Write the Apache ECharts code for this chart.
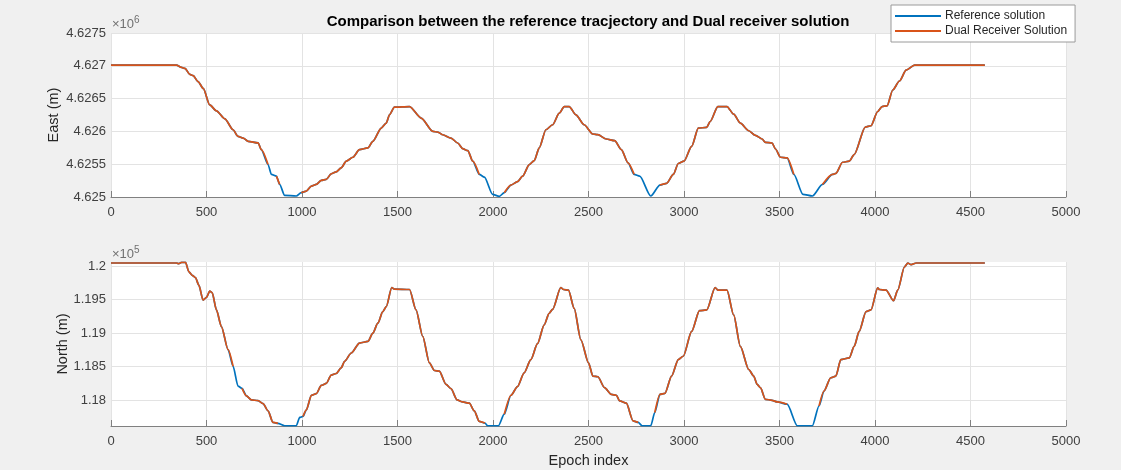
<!DOCTYPE html>
<html>
<head>
<meta charset="utf-8">
<script src="https://cdn.jsdelivr.net/npm/echarts@6/dist/echarts.min.js"></script>
<style>
html,body{margin:0;padding:0;background:#f0f0f0;}
#c{width:1121px;height:470px;}
</style>
</head>
<body>
<div id="c"></div>
<script>
// ---------- data ----------
const epochTicks = [0, 500, 1000, 1500, 2000, 2500, 3000, 3500, 4000, 4500, 5000];
const eastTicks = [4625000, 4625500, 4626000, 4626500, 4627000, 4627500];
const northTicks = [118000, 118500, 119000, 119500, 120000];

const eastEpoch = [0,343,369,387,413,430,456,483,517,552,596,639,665,692,718,770,787,822,840,866,883,909,970,996,1023,1049,1075,1101,1127,1153,1179,1205,1232,1266,1301,1345,1371,1415,1441,1458,1484,1563,1624,1685,1711,1737,1780,1815,1841,1868,1894,1928,1955,1998,2033,2059,2094,2128,2155,2190,2216,2242,2277,2312,2347,2373,2399,2434,2477,2523,2549,2593,2637,2672,2707,2739,2768,2826,2874,2909,2944,2970,3000,3040,3075,3119,3137,3177,3225,3260,3295,3339,3374,3409,3426,3461,3479,3505,3540,3575,3623,3672,3725,3777,3795,3830,3865,3891,3949,3979,4014,4037,4063,4093,4128,4163,4207,4575];

const eastRef = [4627010,4627010,4626975,4626960,4626870,4626850,4626760,4626655,4626404,4626313,
4626192,4626025,4625924,4625899,4625849,4625824,4625722,4625495,4625344,4625318,
4625192,4625025,4625015,4625066,4625091,4625167,4625192,4625253,4625268,4625354,
4625384,4625445,4625546,4625606,4625722,4625748,4625849,4626051,4626126,4626253,
4626369,4626379,4626202,4626000,4625990,4625949,4625899,4625823,4625737,4625707,
4625546,4625344,4625303,4625040,4625010,4625066,4625182,4625233,4625318,4625495,
4625556,4625748,4626025,4626101,4626278,4626379,4626379,4626253,4626101,4625960,
4625950,4625884,4625859,4625722,4625520,4625344,4625318,4625015,4625182,4625207,
4625344,4625511,4625546,4625773,4626050,4626061,4626151,4626379,4626379,4626262,
4626126,4626010,4625940,4625884,4625834,4625823,4625732,4625606,4625596,4625344,
4625040,4625015,4625192,4625344,4625359,4625530,4625546,4625647,4626066,4626086,
4626303,4626379,4626389,4626631,4626768,4626934,4627010,4627010];

const eastDual = [4627010,4627010,4626975,4626960,4626870,4626850,4626760,4626655,4626404,4626313,
4626192,4626025,4625924,4625899,4625849,4625824,4625722,4625495,null,4625318,
4625192,null,null,4625066,4625091,4625167,4625192,4625253,4625268,4625354,
4625384,4625445,4625546,4625606,4625722,4625748,4625849,4626051,4626126,4626253,
4626369,4626379,4626202,4626000,4625990,4625949,4625899,4625823,4625737,4625707,
4625546,4625344,null,null,null,4625066,4625182,4625233,4625318,4625495,
4625556,4625748,4626025,4626101,4626278,4626379,4626379,4626253,4626101,4625960,
4625950,4625884,4625859,4625722,4625520,4625344,null,null,4625182,4625207,
4625344,4625511,4625546,4625773,4626050,4626061,4626151,4626379,4626379,4626262,
4626126,4626010,4625940,4625884,4625834,4625823,4625732,4625606,4625596,4625344,
null,null,4625192,4625344,4625359,4625530,4625546,4625647,4626066,4626086,
4626303,4626379,4626389,4626631,4626768,4626934,4627010,4627010];

const northEpoch = [0,343,355,369,390,408,425,442,460,482,
500,517,530,552,578,613,639,665,686,709,
735,770,796,822,848,874,909,970,988,1005,
1023,1049,1075,1101,1127,1153,1179,1205,1223,1258,
1301,1345,1371,1397,1423,1441,1470,1484,1563,1597,
1632,1667,1693,1719,1754,1780,1812,1841,1876,1902,
1928,1958,1972,2028,2059,2094,2128,2163,2198,2233,
2268,2294,2312,2355,2369,2395,2425,2460,2500,2523,
2549,2584,2619,2646,2663,2698,2733,2760,2781,2826,
2847,2874,2900,2935,2970,2996,3040,3081,3119,3163,
3177,3225,3260,3295,3339,3365,3383,3400,3426,3461,
3488,3540,3593,3672,3707,3733,3768,3795,3821,3865,
3891,3917,3953,3979,4014,4023,4058,4097,4119,4154,
4172,4189,4216,4575];

const northRef = [120050,120050,120040,120060,120060,119916,119866,119832,119718,119495,
119535,119629,119604,119347,119099,118753,118505,118208,118173,118060,
118000,117990,117946,117837,117664,117649,117614,117614,117738,117753,
117852,118070,118094,118218,118248,118371,118396,118480,118579,118703,
118852,118876,119000,119149,119322,119396,119683,119658,119653,119347,
118951,118555,118441,118431,118233,118168,118000,117970,117951,117837,
117678,117654,117614,117614,117787,118070,118198,118406,118604,118842,
119124,119297,119357,119683,119653,119644,119371,118901,118555,118357,
118347,118183,118084,118070,117985,117951,117688,117664,117614,117614,
117812,118084,118099,118357,118604,118654,119025,119337,119347,119683,
119644,119644,119272,118802,118456,118357,118233,118183,118010,117995,
117970,117936,117614,117614,117911,118134,118332,118357,118604,118629,
118802,119025,119322,119347,119678,119653,119644,119485,119644,119990,
120050,120025,120050,120050];

const northDual = [120050,120050,120040,120060,120060,119916,119866,119832,119718,119495,
119535,119629,119604,119347,119099,118753,118505,null,118173,118060,
118000,117990,117946,117837,117664,117649,null,null,null,117753,
117852,118070,118094,118218,118248,118371,118396,118480,118579,118703,
118852,118876,119000,119149,119322,119396,119683,119658,119653,119347,
118951,118555,118441,118431,118233,118168,118000,117970,117951,117837,
117678,117654,null,null,117787,118070,118198,118406,118604,118842,
119124,119297,119357,119683,119653,119644,119371,118901,118555,118357,
118347,118183,118084,118070,117985,117951,117688,117664,null,null,
117812,118084,118099,118357,118604,118654,119025,119337,119347,119683,
119644,119644,119272,118802,118456,118357,118233,118183,118010,117995,
117970,117936,null,null,117911,118134,118332,118357,118604,118629,
118802,119025,119322,119347,119678,119653,119644,119485,119644,119990,
120050,120025,120050,120050];

// ---------- chart ----------
const FONT = '"Liberation Sans", Arial, Helvetica, sans-serif';
const BLUE = '#0072BD', ORANGE = '#D95319';
const pairs = (xs, ys) => xs.map((x, i) => [x, ys[i]]);

const chart = echarts.init(document.getElementById('c'), null, {renderer: 'canvas'});

function xAxis(grid, withName) {
  return {
    type: 'value', gridIndex: grid, min: 0, max: 5000, interval: 500,
    axisLine: {show: true, lineStyle: {color: '#808080', width: 1}},
    axisTick: {show: true, inside: true, length: 6, lineStyle: {color: '#808080'}},
    axisLabel: {color: '#404040', fontSize: 13, fontFamily: FONT, margin: 9,
      formatter: v => epochTicks.includes(v) ? String(v) : ''},
    splitLine: {show: true, lineStyle: {color: '#e3e3e3', width: 1}},
    name: withName ? 'Epoch index' : '',
    nameLocation: 'middle', nameGap: 27,
    nameTextStyle: {color: '#262626', fontSize: 14.5, fontFamily: FONT}
  };
}

const lineCommon = {type: 'line', showSymbol: false, symbol: 'none', smooth: 0.25, smoothMonotone: 'x', connectNulls: false};

const option = {
  animation: false,
  backgroundColor: '#f0f0f0',
  textStyle: {fontFamily: FONT},
  grid: [
    {left: 111, right: 55, top: 33, height: 164, backgroundColor: '#ffffff', show: true, borderWidth: 0},
    {left: 111, right: 55, top: 262, height: 164, backgroundColor: '#ffffff', show: true, borderWidth: 0}
  ],
  legend: {
    orient: 'vertical', left: 891, top: 5,
    padding: [5, 8, 5, 4], itemGap: 3,
    itemWidth: 46, itemHeight: 2, icon: 'rect',
    backgroundColor: '#ffffff', borderColor: '#9a9a9a', borderWidth: 1, borderRadius: 0,
    textStyle: {color: '#262626', fontSize: 12, fontFamily: FONT, padding: [0, 0, 0, -1]},
    data: ['Reference solution', 'Dual Receiver Solution']
  },
  xAxis: [xAxis(0, false), xAxis(1, true)],
  yAxis: [
    {
      type: 'value', gridIndex: 0, min: 4625000, max: 4627500, interval: 500,
      axisLine: {show: false}, axisTick: {show: false},
      axisLabel: {color: '#404040', fontSize: 13, fontFamily: FONT, margin: 5,
        formatter: v => parseFloat((v / 1e6).toFixed(4)).toString()},
      splitLine: {show: true, lineStyle: {color: '#e3e3e3', width: 1}},
      name: 'East (m)', nameLocation: 'middle', nameGap: 50, nameMoveOverlap: false,
      nameTextStyle: {color: '#262626', fontSize: 14.5, fontFamily: FONT}
    },
    {
      type: 'value', gridIndex: 1, min: 117610, max: 120065,
      axisLine: {show: false},
      axisTick: {show: false, customValues: northTicks},
      axisLabel: {color: '#404040', fontSize: 13, fontFamily: FONT, margin: 5,
        customValues: northTicks,
        formatter: v => parseFloat((v / 1e5).toFixed(4)).toString()},
      splitLine: {show: true, lineStyle: {color: '#e3e3e3', width: 1}},
      name: 'North (m)', nameLocation: 'middle', nameGap: 41, nameMoveOverlap: false,
      nameTextStyle: {color: '#262626', fontSize: 14.5, fontFamily: FONT}
    }
  ],
  graphic: [
    {type: 'text', x: 588, y: 22, style: {
      text: 'Comparison between the reference tracjectory and Dual receiver solution',
      font: 'bold 15px ' + FONT, fill: '#000000', align: 'center', verticalAlign: 'middle'}},
    {type: 'text', x: 112, y: 15, style: {
      text: '×10{s|6}', font: '13px ' + FONT, fill: '#707070',
      rich: {s: {fontSize: 10, fontFamily: FONT, fill: '#707070', verticalAlign: 'top', padding: [0, 0, 8, 0]}}}},
    {type: 'text', x: 112, y: 245, style: {
      text: '×10{s|5}', font: '13px ' + FONT, fill: '#707070',
      rich: {s: {fontSize: 10, fontFamily: FONT, fill: '#707070', verticalAlign: 'top', padding: [0, 0, 8, 0]}}}}
  ],
  series: [
    Object.assign({name: 'Reference solution', xAxisIndex: 0, yAxisIndex: 0,
      data: pairs(eastEpoch, eastRef),
      lineStyle: {color: BLUE, width: 1.7}, itemStyle: {color: BLUE}, z: 2}, lineCommon),
    Object.assign({name: 'Dual Receiver Solution', xAxisIndex: 0, yAxisIndex: 0,
      data: pairs(eastEpoch, eastDual),
      lineStyle: {color: ORANGE, width: 1.7}, itemStyle: {color: ORANGE}, z: 3}, lineCommon),
    Object.assign({name: 'Reference solution', xAxisIndex: 1, yAxisIndex: 1,
      data: pairs(northEpoch, northRef),
      lineStyle: {color: BLUE, width: 1.7}, itemStyle: {color: BLUE}, z: 2}, lineCommon),
    Object.assign({name: 'Dual Receiver Solution', xAxisIndex: 1, yAxisIndex: 1,
      data: pairs(northEpoch, northDual),
      lineStyle: {color: ORANGE, width: 1.7}, itemStyle: {color: ORANGE}, z: 3}, lineCommon)
  ]
};
chart.setOption(option);
</script>
</body>
</html>
